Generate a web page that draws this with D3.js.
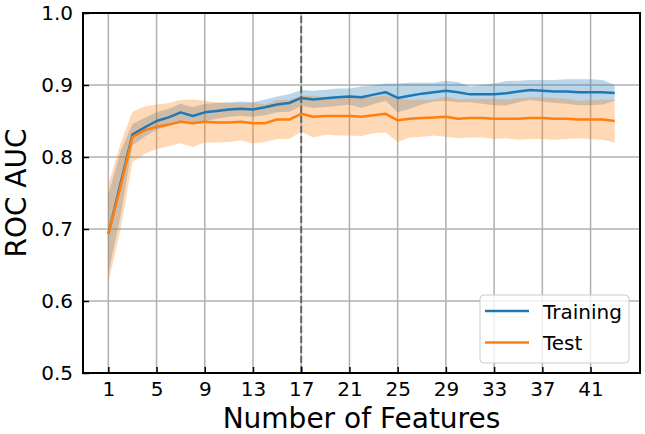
<!DOCTYPE html>
<html>
<head>
<meta charset="utf-8">
<script src="https://cdn.jsdelivr.net/npm/d3@7"></script>
<style>
  body { margin: 0; background: #fff; }
  text { font-family: "DejaVu Sans", sans-serif; fill: #000; }
</style>
</head>
<body>
<div id="chart"></div>
<script>
// number of features 1..43
const features = d3.range(1, 44);

const trainMean = [0.693, 0.762, 0.831, 0.841, 0.850, 0.855, 0.862, 0.857, 0.862, 0.864, 0.866, 0.867, 0.866, 0.869, 0.873, 0.875,
    0.882, 0.880, 0.8815, 0.883, 0.884, 0.883, 0.8866, 0.890, 0.882, 0.885, 0.888, 0.890, 0.892, 0.890, 0.887, 0.887, 0.887,
    0.8885, 0.891, 0.893, 0.892, 0.891, 0.891, 0.890, 0.890, 0.890, 0.889];
const trainStd = [0.055, 0.045, 0.015, 0.013, 0.012, 0.012, 0.012, 0.012, 0.012, 0.011, 0.010, 0.010, 0.010, 0.011, 0.011, 0.012,
    0.011, 0.012, 0.012, 0.012, 0.011, 0.015, 0.013, 0.012, 0.020, 0.018, 0.015, 0.013, 0.014, 0.014, 0.011, 0.013, 0.015,
    0.017, 0.015, 0.014, 0.015, 0.016, 0.017, 0.018, 0.018, 0.017, 0.011];

const testMean = [0.693, 0.758, 0.828, 0.837, 0.842, 0.845, 0.849, 0.847, 0.849, 0.848, 0.848, 0.849, 0.847, 0.847, 0.852, 0.852,
    0.860, 0.856, 0.857, 0.857, 0.857, 0.856, 0.858, 0.860, 0.851, 0.853, 0.854, 0.855, 0.856, 0.853, 0.854, 0.854, 0.853,
    0.853, 0.853, 0.854, 0.854, 0.853, 0.853, 0.852, 0.852, 0.852, 0.850];
const testStd = [0.068, 0.060, 0.035, 0.033, 0.031, 0.030, 0.030, 0.033, 0.029, 0.028, 0.027, 0.026, 0.028, 0.026, 0.027, 0.027,
    0.025, 0.029, 0.026, 0.027, 0.027, 0.027, 0.025, 0.026, 0.030, 0.026, 0.026, 0.025, 0.028, 0.027, 0.027, 0.027, 0.028,
    0.027, 0.029, 0.029, 0.029, 0.029, 0.028, 0.026, 0.027, 0.028, 0.030];

const xTicks = d3.range(1, 44, 4);
const yTicks = [0.5, 0.6, 0.7, 0.8, 0.9, 1.0];
const bestK = 17;

const width = 645, height = 434;
const margin = { top: 13, right: 5, bottom: 61, left: 83 };

const svg = d3.select('#chart').append('svg')
    .attr('width', width)
    .attr('height', height);

const x = d3.scaleLinear().domain([-1.1, 45.1]).range([margin.left, width - margin.right]);
const y = d3.scaleLinear().domain([0.5, 1.0]).range([height - margin.bottom, margin.top]);

// grid
svg.append('g').selectAll('line')
    .data(xTicks).enter().append('line')
    .attr('x1', d => x(d)).attr('x2', d => x(d))
    .attr('y1', y(0.5)).attr('y2', y(1.0))
    .attr('stroke', '#b0b0b0').attr('stroke-width', 1.5);
svg.append('g').selectAll('line')
    .data(yTicks).enter().append('line')
    .attr('x1', x.range()[0]).attr('x2', x.range()[1])
    .attr('y1', d => y(d)).attr('y2', d => y(d))
    .attr('stroke', '#b0b0b0').attr('stroke-width', 1.5);

const series = [
    { name: 'Training', mean: trainMean, std: trainStd, color: '#1f77b4' },
    { name: 'Test', mean: testMean, std: testStd, color: '#ff7f0e' }
];

const area = d3.area()
    .x((d, i) => x(features[i]))
    .y0(d => y(d[0] - d[1]))
    .y1(d => y(d[0] + d[1]));

const line = d3.line()
    .x((d, i) => x(features[i]))
    .y(d => y(d));

series.forEach(s => {
    svg.append('path')
        .datum(s.mean.map((m, i) => [m, s.std[i]]))
        .attr('d', area)
        .attr('fill', s.color)
        .attr('fill-opacity', 0.3);
});

series.forEach(s => {
    svg.append('path')
        .datum(s.mean)
        .attr('d', line)
        .attr('fill', 'none')
        .attr('stroke', s.color)
        .attr('stroke-width', 2.5)
        .attr('stroke-linejoin', 'round');
});

// selected number of features
svg.append('line')
    .attr('x1', x(bestK)).attr('x2', x(bestK))
    .attr('y1', y(0.5)).attr('y2', y(1.0))
    .attr('stroke', '#666').attr('stroke-width', 2)
    .attr('stroke-dasharray', '7,3');

// axes with inward ticks
const xAxis = svg.append('g')
    .attr('transform', `translate(0,${y(0.5)})`)
    .call(d3.axisBottom(x).tickValues(xTicks).tickSizeInner(-6).tickSizeOuter(0).tickPadding(9));
const yAxis = svg.append('g')
    .attr('transform', `translate(${x.range()[0]},0)`)
    .call(d3.axisLeft(y).tickValues(yTicks).tickFormat(d3.format('.1f')).tickSizeInner(-6).tickSizeOuter(0).tickPadding(10));

[xAxis, yAxis].forEach(a => {
    a.select('.domain').remove();
    a.selectAll('.tick line').attr('stroke', '#000').attr('stroke-width', 1.5);
    a.selectAll('.tick text').attr('font-size', 20).attr('font-family', 'DejaVu Sans');
});

// frame
svg.append('rect')
    .attr('x', x.range()[0]).attr('y', y(1.0))
    .attr('width', x.range()[1] - x.range()[0])
    .attr('height', y(0.5) - y(1.0))
    .attr('fill', 'none').attr('stroke', '#000').attr('stroke-width', 2);

// axis labels
svg.append('text')
    .attr('x', (x.range()[0] + x.range()[1]) / 2)
    .attr('y', 428)
    .attr('text-anchor', 'middle')
    .attr('font-size', 28)
    .text('Number of Features');

svg.append('text')
    .attr('transform', `translate(26,${(y(0.5) + y(1.0)) / 2}) rotate(-90)`)
    .attr('text-anchor', 'middle')
    .attr('font-size', 28)
    .text('ROC AUC');

// legend
const legend = svg.append('g').attr('transform', 'translate(480,295)');
legend.append('rect')
    .attr('width', 149).attr('height', 68).attr('rx', 4)
    .attr('fill', '#fff').attr('fill-opacity', 0.8)
    .attr('stroke', '#ccc').attr('stroke-width', 1);
series.forEach((s, i) => {
    const g = legend.append('g').attr('transform', `translate(0,${16 + i * 31.5})`);
    g.append('line')
        .attr('x1', 5).attr('x2', 49)
        .attr('stroke', s.color).attr('stroke-width', 2.5);
    g.append('text')
        .attr('x', 63).attr('y', 7.5)
        .attr('font-size', 20)
        .text(s.name);
});
</script>
</body>
</html>
